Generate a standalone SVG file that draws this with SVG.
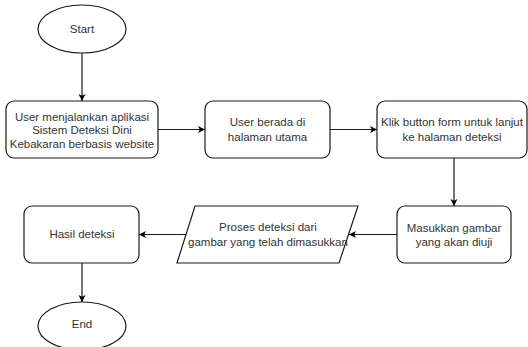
<svg xmlns="http://www.w3.org/2000/svg" width="528" height="347" viewBox="0 0 528 347">
<defs>
<marker id="arr" markerWidth="8" markerHeight="8" refX="7" refY="4" orient="auto" markerUnits="userSpaceOnUse">
<path d="M0,0.5 L7,4 L0,7.5 L1.8,4 Z" fill="#000"/>
</marker>
<style>
.shape{fill:#fff;stroke:#1a1a1a;stroke-width:1.2}
.lbl{font-family:"Liberation Sans",Arial,sans-serif;font-size:11.5px;fill:#333;text-anchor:middle;dominant-baseline:central}
.edge{fill:none;stroke:#1a1a1a;stroke-width:1.2;marker-end:url(#arr)}
</style>
</defs>
<rect width="528" height="347" fill="#fff"/>
<g id="connectors">
<path class="edge" d="M82,53 L82,101"/>
<path class="edge" d="M158,129.5 L205,129.5"/>
<path class="edge" d="M330,129.5 L377,129.5"/>
<path class="edge" d="M454,158 L454,206"/>
<path class="edge" d="M397,234.5 L349,234.5"/>
<path class="edge" d="M186,234.5 L139,234.5"/>
<path class="edge" d="M82,263 L82,302"/>
</g>
<g id="start">
<ellipse class="shape" cx="82" cy="29" rx="44" ry="24"/>
<text class="lbl" x="82" y="29">Start</text>
</g>
<g id="n1">
<rect class="shape" x="6" y="101" width="152" height="57" rx="8"/>
<text class="lbl" x="82" y="116.5">User menjalankan aplikasi</text>
<text class="lbl" x="82" y="130">Sistem Deteksi Dini</text>
<text class="lbl" x="82" y="143.5">Kebakaran berbasis website</text>
</g>
<g id="n2">
<rect class="shape" x="205" y="101" width="125" height="57" rx="8"/>
<text class="lbl" x="267.5" y="122">User berada di</text>
<text class="lbl" x="267.5" y="137">halaman utama</text>
</g>
<g id="n3">
<rect class="shape" x="377" y="101" width="150" height="57" rx="8"/>
<text class="lbl" x="452" y="122">Klik button form untuk lanjut</text>
<text class="lbl" x="452" y="137">ke halaman deteksi</text>
</g>
<g id="n4">
<rect class="shape" x="397" y="206" width="114" height="57" rx="8"/>
<text class="lbl" x="454" y="227.5">Masukkan gambar</text>
<text class="lbl" x="454" y="242">yang akan diuji</text>
</g>
<g id="n5">
<path class="shape" d="M195,206 L358,206 L339,263 L177,263 Z"/>
<text class="lbl" x="268" y="227">Proses deteksi dari</text>
<text class="lbl" x="268" y="242">gambar yang telah dimasukkan</text>
</g>
<g id="n6">
<rect class="shape" x="24" y="206" width="115" height="57" rx="8"/>
<text class="lbl" x="82" y="233.5">Hasil deteksi</text>
</g>
<g id="end">
<ellipse class="shape" cx="82" cy="326" rx="44" ry="24"/>
<text class="lbl" x="82" y="324">End</text>
</g>
</svg>
